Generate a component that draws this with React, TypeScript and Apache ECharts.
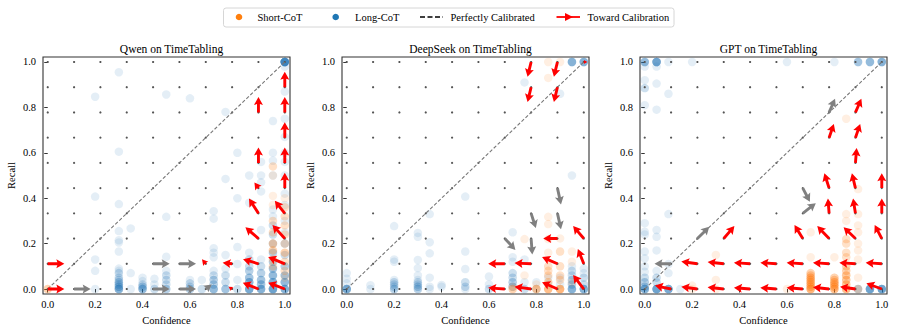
import React, { useEffect, useRef } from 'react';
import * as echarts from 'echarts';

type Pt = [number, number, number]; // confidence, recall, number of overlapping points
type Arrow = [number, number, number, number, number]; // x, y, dx, dy, toward calibration (1) or not (0)

const PLOT_TITLES = ['Qwen on TimeTabling', 'DeepSeek on TimeTabling', 'GPT on TimeTabling'];
const TICKS = [0, 0.2, 0.4, 0.6, 0.8, 1.0];
const GRID_VALUES = [0, 0.1111, 0.2222, 0.3333, 0.4444, 0.5556, 0.6667, 0.7778, 0.8889, 1.0];
const DIAGONAL = [[0, 0], [1, 1]];
const LEGEND_LABELS = ['Short-CoT', 'Long-CoT', 'Perfectly Calibrated', 'Toward Calibration'];

const QWEN_LONG: Pt[] = [
  [1.0, 1.0, 14], [1.0, 0.98, 1], [1.0, 0.87, 1], [1.0, 0.75, 1], [1.0, 0.67, 1],
  [0.3, 0.955, 1], [0.2, 0.847, 1], [0.5, 0.857, 1], [0.6, 0.84, 1], [0.75, 0.78, 1], [0.95, 0.74, 1],
  [0.3, 0.605, 1], [0.8, 0.6, 1], [0.95, 0.6, 1], [0.95, 0.565, 1], [0.9, 0.56, 1], [1.0, 0.6, 1], [1.0, 0.56, 1],
  [0.85, 0.5, 1], [0.9, 0.5, 1], [0.95, 0.5, 1], [0.75, 0.485, 1], [1.0, 0.5, 1],
  [0.2, 0.407, 1], [0.3, 0.374, 1], [0.8, 0.4, 1], [0.9, 0.43, 1], [0.9, 0.47, 1], [0.85, 0.38, 1],
  [0.7, 0.343, 1], [0.7, 0.31, 1], [0.5, 0.318, 1], [0.35, 0.267, 1],
  [0.3, 0.255, 1], [0.3, 0.215, 1], [0.3, 0.205, 1], [0.3, 0.165, 1],
  [0.2, 0.13, 1], [0.2, 0.08, 1], [0.2, 0.0, 1],
  [0.3, 0.09, 1], [0.3, 0.08, 1], [0.3, 0.07, 2], [0.3, 0.05, 2], [0.3, 0.04, 2], [0.3, 0.03, 3], [0.3, 0.02, 3], [0.3, 0.01, 4], [0.3, 0.0, 6],
  [0.35, 0.07, 1], [0.35, 0.0, 1],
  [0.4, 0.05, 1], [0.4, 0.035, 1], [0.4, 0.02, 2], [0.4, 0.01, 3], [0.4, 0.0, 5],
  [0.45, 0.045, 1], [0.45, 0.02, 1], [0.45, 0.0, 2],
  [0.5, 0.142, 1], [0.5, 0.08, 1], [0.5, 0.06, 2], [0.5, 0.04, 2], [0.5, 0.02, 2], [0.5, 0.0, 3],
  [0.6, 0.04, 1], [0.6, 0.025, 2], [0.6, 0.01, 2], [0.6, 0.0, 3],
  [0.65, 0.04, 1], [0.65, 0.0, 2],
  [0.7, 0.18, 1], [0.7, 0.16, 1], [0.7, 0.14, 1], [0.7, 0.08, 1], [0.7, 0.06, 2], [0.7, 0.04, 3], [0.7, 0.02, 3], [0.7, 0.0, 5],
  [0.75, 0.15, 1], [0.75, 0.09, 1], [0.75, 0.06, 2], [0.75, 0.03, 2], [0.75, 0.0, 4],
  [0.8, 0.185, 1], [0.8, 0.11, 1], [0.8, 0.04, 1], [0.8, 0.0, 2],
  [0.85, 0.16, 1], [0.85, 0.13, 2], [0.85, 0.1, 2], [0.85, 0.08, 3], [0.85, 0.05, 4], [0.85, 0.03, 5], [0.85, 0.0, 7],
  [0.9, 0.26, 1], [0.9, 0.13, 1], [0.9, 0.1, 2], [0.9, 0.07, 3], [0.9, 0.04, 4], [0.9, 0.02, 4], [0.9, 0.0, 6],
  [0.95, 0.35, 1], [0.95, 0.32, 1], [0.95, 0.28, 2], [0.95, 0.24, 2], [0.95, 0.2, 2], [0.95, 0.16, 3], [0.95, 0.12, 3], [0.95, 0.09, 4], [0.95, 0.06, 5], [0.95, 0.03, 6], [0.95, 0.0, 8],
  [1.0, 0.42, 1], [1.0, 0.37, 1], [1.0, 0.3, 1], [1.0, 0.25, 1], [1.0, 0.2, 2], [1.0, 0.15, 2], [1.0, 0.1, 3], [1.0, 0.06, 4], [1.0, 0.03, 5], [1.0, 0.0, 6],
];

const QWEN_SHORT: Pt[] = [
  [0.0, 0.0, 3], [0.95, 0.54, 2], [0.95, 0.5, 1], [0.95, 0.41, 1], [0.95, 0.37, 1], [0.95, 0.3, 2], [0.95, 0.25, 2],
  [0.95, 0.2, 3], [0.95, 0.17, 3], [0.95, 0.13, 2], [0.95, 0.1, 2],
  [1.0, 0.4, 1], [1.0, 0.36, 2], [1.0, 0.32, 2], [1.0, 0.28, 2], [1.0, 0.24, 2], [1.0, 0.2, 2], [1.0, 0.16, 3], [1.0, 0.12, 2], [1.0, 0.08, 2], [1.0, 0.05, 1],
];

const DEEPSEEK_LONG: Pt[] = [
  [0.0, 0.0, 7], [0.0, 0.025, 1], [0.0, 0.045, 1], [0.0, 0.07, 1],
  [0.1, 0.0, 1], [0.1, 0.017, 1],
  [0.2, 0.277, 1], [0.2, 0.13, 1], [0.2, 0.12, 1], [0.2, 0.04, 1], [0.2, 0.03, 2], [0.2, 0.02, 2], [0.2, 0.01, 2], [0.2, 0.0, 3],
  [0.3, 0.247, 1], [0.3, 0.23, 1], [0.3, 0.128, 1], [0.3, 0.092, 1], [0.3, 0.06, 1], [0.3, 0.04, 1], [0.3, 0.03, 2], [0.3, 0.02, 2], [0.3, 0.01, 3], [0.3, 0.0, 3],
  [0.35, 0.33, 1], [0.35, 0.206, 1], [0.35, 0.157, 1], [0.35, 0.05, 1], [0.35, 0.01, 1], [0.35, 0.0, 1],
  [0.4, 0.018, 1], [0.4, 0.01, 1],
  [0.5, 0.407, 1], [0.5, 0.165, 1], [0.5, 0.088, 1], [0.5, 0.03, 2], [0.5, 0.01, 2], [0.5, 0.0, 1],
  [0.6, 0.055, 1], [0.6, 0.02, 1], [0.6, 0.0, 2],
  [0.7, 0.25, 1], [0.7, 0.14, 1], [0.7, 0.12, 1], [0.7, 0.07, 2], [0.7, 0.05, 2], [0.7, 0.03, 3], [0.7, 0.01, 3],
  [0.75, 0.91, 1], [0.75, 0.13, 1], [0.75, 0.03, 1], [0.75, 0.0, 2],
  [0.8, 0.03, 1], [0.8, 0.0, 1],
  [0.85, 0.05, 1], [0.85, 0.02, 1],
  [0.9, 0.86, 1], [0.9, 0.05, 1], [0.9, 0.02, 1],
  [0.95, 1.0, 6], [0.95, 0.5, 1], [0.95, 0.1, 1], [0.95, 0.08, 2], [0.95, 0.06, 2], [0.95, 0.04, 3], [0.95, 0.02, 3], [0.95, 0.0, 6],
  [1.0, 1.0, 6], [1.0, 0.09, 1], [1.0, 0.07, 1], [1.0, 0.05, 2], [1.0, 0.02, 2], [1.0, 0.0, 6],
];

const DEEPSEEK_SHORT: Pt[] = [
  [0.85, 1.0, 1], [0.9, 1.0, 1], [0.85, 0.93, 1],
  [0.75, 0.22, 1], [0.75, 0.06, 1],
  [0.7, 0.0, 3], [0.7, 0.01, 1],
  [0.8, 0.0, 4], [0.8, 0.02, 1],
  [0.85, 0.318, 1], [0.85, 0.286, 1], [0.85, 0.22, 1], [0.85, 0.16, 1], [0.85, 0.1, 2], [0.85, 0.08, 2], [0.85, 0.06, 2], [0.85, 0.03, 3], [0.85, 0.0, 5],
  [0.9, 0.223, 1], [0.9, 0.165, 2], [0.9, 0.1, 2], [0.9, 0.06, 2], [0.9, 0.04, 2], [0.9, 0.0, 6],
  [0.95, 0.165, 1], [0.95, 0.12, 1], [0.95, 0.03, 1],
];

const GPT_LONG: Pt[] = [
  [0.0, 1.0, 5], [0.05, 1.0, 8], [0.1, 1.0, 1], [0.2, 1.0, 1], [0.6, 1.0, 1], [0.8, 1.0, 1], [0.9, 1.0, 4], [0.95, 1.0, 5], [1.0, 1.0, 6],
  [0.0, 0.98, 1], [0.0, 0.92, 1], [0.0, 0.885, 2], [0.0, 0.81, 1], [0.05, 0.98, 1], [0.05, 0.905, 1], [0.05, 0.79, 1], [0.1, 0.86, 1],
  [0.1, 0.33, 1],
  [0.0, 0.29, 1], [0.0, 0.252, 1], [0.0, 0.24, 1], [0.0, 0.165, 1], [0.0, 0.135, 1], [0.0, 0.1, 1], [0.0, 0.076, 1], [0.0, 0.05, 2], [0.0, 0.03, 3], [0.0, 0.01, 3], [0.0, 0.0, 6],
  [0.05, 0.26, 1], [0.05, 0.23, 1], [0.05, 0.17, 1], [0.05, 0.08, 1], [0.05, 0.05, 2], [0.05, 0.03, 2], [0.05, 0.0, 8],
  [0.1, 0.11, 1], [0.1, 0.07, 1], [0.1, 0.0, 7],
  [0.15, 0.0, 1],
  [0.9, 0.0, 3], [0.95, 0.0, 8], [1.0, 0.0, 8],
];

const GPT_SHORT: Pt[] = [
  [0.2, 0.0, 1], [0.2, 0.015, 1],
  [0.3, 0.15, 1], [0.3, 0.04, 1], [0.3, 0.0, 1],
  [0.6, 0.0, 1],
  [0.7, 0.25, 1], [0.7, 0.14, 1], [0.7, 0.07, 3], [0.7, 0.06, 3], [0.7, 0.05, 4], [0.7, 0.04, 4], [0.7, 0.03, 4], [0.7, 0.02, 4], [0.7, 0.01, 4], [0.7, 0.0, 6],
  [0.85, 0.75, 1],
  [0.8, 0.14, 1], [0.8, 0.05, 3], [0.8, 0.04, 3], [0.8, 0.03, 4], [0.8, 0.02, 4], [0.8, 0.01, 4], [0.8, 0.0, 5],
  [0.85, 0.33, 1], [0.85, 0.3, 1], [0.85, 0.22, 2], [0.85, 0.2, 2], [0.85, 0.16, 2], [0.85, 0.14, 2], [0.85, 0.1, 3], [0.85, 0.08, 3],
  [0.85, 0.06, 4], [0.85, 0.04, 4], [0.85, 0.02, 4], [0.85, 0.0, 5],
  [0.9, 0.44, 1], [0.9, 0.33, 1], [0.9, 0.28, 1], [0.9, 0.25, 1], [0.9, 0.2, 1], [0.9, 0.17, 1], [0.9, 0.13, 1], [0.9, 0.05, 1], [0.9, 0.0, 2],
];

const QWEN_ARROWS: Arrow[] = [
  [0, 0.1111, 0.07, 0, 1], [0, 0, 0.07, 0, 1], [0.1111, 0, 0.07, 0, 0],
  [0.4444, 0.1111, 0.07, 0, 0], [0.5556, 0.1111, 0.07, 0, 0], [0.4444, 0, 0.07, 0, 0], [0.5556, 0, 0.07, 0, 0],
  [0.6667, 0.1111, -0.016, 0.02, 1], [0.6667, 0, 0.025, 0.02, 0],
  [0.7778, 0.1111, -0.04, 0.005, 1], [0.7778, 0, -0.015, 0.01, 1],
  [0.8889, 0.1111, -0.065, 0.02, 1], [0.8889, 0, -0.066, 0.028, 1],
  [1, 0.1111, -0.07, 0.03, 1], [1, 0, -0.07, 0.028, 1],
  [0.8889, 0.2222, -0.055, 0.05, 1], [1, 0.2222, -0.052, 0.06, 1],
  [0.8889, 0.3333, -0.04, 0.065, 1], [1, 0.3333, -0.042, 0.055, 1],
  [0.8889, 0.4444, -0.017, 0.025, 1], [1, 0.4444, 0, 0.068, 1],
  [0.8889, 0.5556, 0, 0.068, 1], [1, 0.5556, 0, 0.068, 1],
  [0.8889, 0.7778, 0, 0.068, 1], [1, 0.6667, 0, 0.068, 1], [1, 0.7778, 0, 0.068, 1], [1, 0.8889, 0, 0.068, 1],
];

const DEEPSEEK_ARROWS: Arrow[] = [
  [0.7778, 1, -0.015, -0.065, 1], [0.8889, 1, -0.015, -0.065, 1],
  [0.7778, 0.8889, -0.015, -0.065, 1], [0.8889, 0.8889, -0.015, -0.065, 1],
  [1, 1, 0.015, 0, 1],
  [0.8889, 0.4444, 0.015, -0.072, 0], [0.7778, 0.3333, 0.02, -0.065, 0], [0.8889, 0.3333, 0.015, -0.07, 0],
  [0.6667, 0.2222, 0.045, -0.05, 0], [0.7778, 0.2222, 0.005, -0.07, 0],
  [0.8889, 0.2222, -0.06, 0, 1], [1, 0.2222, -0.045, 0.055, 1],
  [0.6667, 0.1111, -0.07, 0, 1], [0.7778, 0.1111, -0.07, 0.003, 1], [0.8889, 0.1111, -0.065, 0.03, 1], [1, 0.1111, -0.025, 0.065, 1],
  [0.6667, 0, -0.07, 0.005, 1], [0.7778, 0, -0.07, 0.01, 1], [0.8889, 0, -0.065, 0.03, 1], [1, 0, -0.045, 0.062, 1],
];

const GPT_ARROWS: Arrow[] = [
  [0.7778, 0.7778, 0.025, 0.06, 0], [0.8889, 0.7778, 0.025, 0.06, 1],
  [0.7778, 0.6667, 0.02, 0.06, 1], [0.8889, 0.6667, 0.02, 0.06, 1],
  [0.8889, 0.5556, 0.005, 0.065, 1],
  [0.7778, 0.4444, -0.02, 0.065, 1], [0.8889, 0.4444, -0.015, 0.065, 1], [1, 0.4444, 0, 0.065, 1],
  [0.7778, 0.3333, -0.005, 0.065, 1], [0.8889, 0.3333, -0.01, 0.065, 1], [1, 0.3333, 0, 0.065, 1],
  [0.6667, 0.4444, 0.03, -0.06, 0], [0.6667, 0.3333, 0.055, 0.045, 0],
  [0.2222, 0.2222, 0.05, 0.052, 0], [0.3333, 0.2222, 0.045, 0.055, 1],
  [0.6667, 0.2222, -0.035, 0.06, 1], [0.7778, 0.2222, -0.05, 0.055, 1], [0.8889, 0.2222, -0.05, 0.05, 1], [1, 0.2222, -0.03, 0.06, 1],
  [0.1111, 0.1111, -0.07, 0, 0],
  [0.2222, 0.1111, -0.068, 0.01, 1], [0.3333, 0.1111, -0.068, 0.008, 1], [0.4444, 0.1111, -0.068, 0.005, 1], [0.5556, 0.1111, -0.068, 0.005, 1],
  [0.6667, 0.1111, -0.068, 0.005, 1], [0.7778, 0.1111, -0.068, 0.005, 1], [0.8889, 0.1111, -0.068, 0.005, 1], [1, 0.1111, -0.068, 0.005, 1],
  [0.1111, 0, -0.068, 0.015, 1], [0.2222, 0, -0.068, 0.01, 1], [0.3333, 0, -0.068, 0.008, 1], [0.4444, 0, -0.068, 0.006, 1],
  [0.5556, 0, -0.068, 0.006, 1], [0.6667, 0, -0.068, 0.006, 1], [0.7778, 0, -0.068, 0.008, 1], [0.8889, 0, -0.065, 0.01, 1], [1, 0, -0.065, 0.025, 1],
];

const LONG_SETS = [QWEN_LONG, DEEPSEEK_LONG, GPT_LONG];
const SHORT_SETS = [QWEN_SHORT, DEEPSEEK_SHORT, GPT_SHORT];
const ARROW_SETS = [QWEN_ARROWS, DEEPSEEK_ARROWS, GPT_ARROWS];

const FONT = 'Liberation Serif';
const BLUE = '#1f77b4';
const ORANGE = '#ff7f0e';
const GRID_LEFTS = [43, 342, 640];
const GRID_W = 247;
const GRID_TOP = 57;
const GRID_H = 237;

function expand(pts: Pt[]) {
  const out: number[][] = [];
  pts.forEach(([x, y, n]) => {
    for (let k = 0; k < n; k++) out.push([x, y]);
  });
  return out;
}

function arrowPoints(p0: number[], p1: number[], w0: number, hl0: number, hal0: number, hw0: number) {
  const vx = p1[0] - p0[0];
  const vy = p1[1] - p0[1];
  const L = Math.hypot(vx, vy);
  if (L < 0.3) return null;
  const ux = vx / L, uy = vy / L;
  const nx = -uy, ny = ux;
  let w = w0, hl = hl0, hal = hal0, hw = hw0;
  if (L < hl) {
    const s = L / hl;
    w *= s; hl *= s; hal *= s; hw *= s;
  }
  const pt = (a: number, b: number) => [p0[0] + ux * a + nx * b, p0[1] + uy * a + ny * b];
  return [pt(0, -w / 2), pt(L - hal, -w / 2), pt(L - hl, -hw / 2), pt(L, 0), pt(L - hl, hw / 2), pt(L - hal, w / 2), pt(0, w / 2)];
}

export default function App() {
  const ref = useRef<HTMLDivElement>(null);
  useEffect(() => {
    if (!ref.current) return;
    const chart = echarts.init(ref.current, undefined, { renderer: 'svg' });

    const dots: number[][] = [];
    GRID_VALUES.forEach((gx) => GRID_VALUES.forEach((gy) => dots.push([gx, gy])));

    const grids = GRID_LEFTS.map((left) => ({
      left, top: GRID_TOP, width: GRID_W, height: GRID_H,
      show: true, borderColor: '#333', borderWidth: 1.1, backgroundColor: 'transparent',
    }));

    const xAxes = GRID_LEFTS.map((_, i) => ({
      type: 'value', gridIndex: i, min: -0.02, max: 1.022,
      name: 'Confidence', nameLocation: 'middle', nameGap: 20,
      nameTextStyle: { fontFamily: FONT, fontSize: 10.5, color: '#000' },
      axisLine: { show: false },
      axisTick: { show: true, customValues: TICKS, length: 3.5, lineStyle: { color: '#000', width: 0.8 } },
      axisLabel: { customValues: TICKS, formatter: (v: number) => v.toFixed(1), fontFamily: FONT, fontSize: 10.5, color: '#000', margin: 5 },
      splitLine: { show: false },
    }));
    const yAxes = GRID_LEFTS.map((_, i) => ({
      type: 'value', gridIndex: i, min: -0.022, max: 1.022,
      name: 'Recall', nameLocation: 'middle', nameGap: 26, nameRotate: 90,
      nameTextStyle: { fontFamily: FONT, fontSize: 10.5, color: '#000' },
      axisLine: { show: false },
      axisTick: { show: true, customValues: TICKS, length: 3.5, lineStyle: { color: '#000', width: 0.8 } },
      axisLabel: { customValues: TICKS, formatter: (v: number) => v.toFixed(1), fontFamily: FONT, fontSize: 10.5, color: '#000', margin: 7 },
      splitLine: { show: false },
    }));

    const series: any[] = [];
    for (let i = 0; i < 3; i++) {
      series.push({
        type: 'scatter', name: 'Long-CoT', xAxisIndex: i, yAxisIndex: i, silent: true, z: 2,
        symbol: 'circle', symbolSize: 8.5, data: expand(LONG_SETS[i]),
        itemStyle: { color: BLUE, opacity: 0.12 },
      });
      series.push({
        type: 'scatter', name: 'Short-CoT', xAxisIndex: i, yAxisIndex: i, silent: true, z: 2,
        symbol: 'circle', symbolSize: 8.5, data: expand(SHORT_SETS[i]),
        itemStyle: { color: ORANGE, opacity: 0.12 },
      });
      series.push({
        type: 'scatter', name: 'grid', xAxisIndex: i, yAxisIndex: i, silent: true, z: 3,
        symbol: 'circle', symbolSize: 2.2, data: dots, itemStyle: { color: '#555', opacity: 1 },
      });
      series.push({
        type: 'line', name: 'Perfectly Calibrated', xAxisIndex: i, yAxisIndex: i, silent: true, z: 4,
        data: DIAGONAL, symbol: 'none', lineStyle: { color: '#777', width: 1.1, type: [3.5, 2] },
      });
      series.push({
        type: 'custom', name: 'Toward Calibration', xAxisIndex: i, yAxisIndex: i, silent: true, z: 5,
        coordinateSystem: 'cartesian2d', clip: false, encode: { x: 0, y: 1 },
        data: ARROW_SETS[i],
        renderItem: (_p: any, api: any) => {
          const x = api.value(0), y = api.value(1), dx = api.value(2), dy = api.value(3), red = api.value(4);
          const p0 = api.coord([x, y]);
          const p1 = api.coord([x + dx, y + dy]);
          const pts = arrowPoints(p0, p1, 2.9, 8, 7, 9);
          if (!pts) return null;
          return { type: 'polygon', shape: { points: pts }, style: { fill: red ? '#ff0000' : '#808080' } };
        },
      });
    }

    const titles = GRID_LEFTS.map((left, i) => ({
      text: PLOT_TITLES[i], left: left + GRID_W / 2, top: 38, textAlign: 'center',
      textStyle: { fontFamily: FONT, fontSize: 11.5, fontWeight: 'normal', color: '#000' },
    }));

    const ly = 17;
    const graphic: any[] = [
      { type: 'rect', shape: { x: 223.5, y: 8, width: 450.5, height: 19, r: 2.5 }, style: { fill: '#fff', stroke: '#ccc', lineWidth: 0.8 }, z: 100 },
      { type: 'circle', shape: { cx: 239, cy: ly, r: 3.3 }, style: { fill: ORANGE }, z: 101 },
      { type: 'text', x: 257.5, y: ly, style: { text: LEGEND_LABELS[0], font: `10.5px ${FONT}`, fill: '#000', verticalAlign: 'middle' }, z: 101 },
      { type: 'circle', shape: { cx: 335.7, cy: ly, r: 3.3 }, style: { fill: BLUE }, z: 101 },
      { type: 'text', x: 355, y: ly, style: { text: LEGEND_LABELS[1], font: `10.5px ${FONT}`, fill: '#000', verticalAlign: 'middle' }, z: 101 },
      { type: 'line', shape: { x1: 420, y1: ly, x2: 443, y2: ly }, style: { stroke: '#000', lineWidth: 1.5, lineDash: [5, 2.5] }, z: 101 },
      { type: 'text', x: 450.5, y: ly, style: { text: LEGEND_LABELS[2], font: `10.5px ${FONT}`, fill: '#000', verticalAlign: 'middle' }, z: 101 },
      { type: 'line', shape: { x1: 556.5, y1: ly, x2: 580, y2: ly }, style: { stroke: '#ff0000', lineWidth: 1.8 }, z: 101 },
      { type: 'polygon', shape: { points: [[565, ly - 4], [573, ly], [565, ly + 4]] }, style: { fill: '#ff0000' }, z: 101 },
      { type: 'text', x: 587.5, y: ly, style: { text: LEGEND_LABELS[3], font: `10.5px ${FONT}`, fill: '#000', verticalAlign: 'middle' }, z: 101 },
    ];

    chart.setOption({
      animation: false,
      backgroundColor: '#fff',
      title: titles,
      grid: grids,
      xAxis: xAxes,
      yAxis: yAxes,
      series,
      graphic,
    });
    return () => chart.dispose();
  }, []);
  return <div ref={ref} style={{ position: 'absolute', left: 0, top: 0, width: 897, height: 334 }} />;
}
